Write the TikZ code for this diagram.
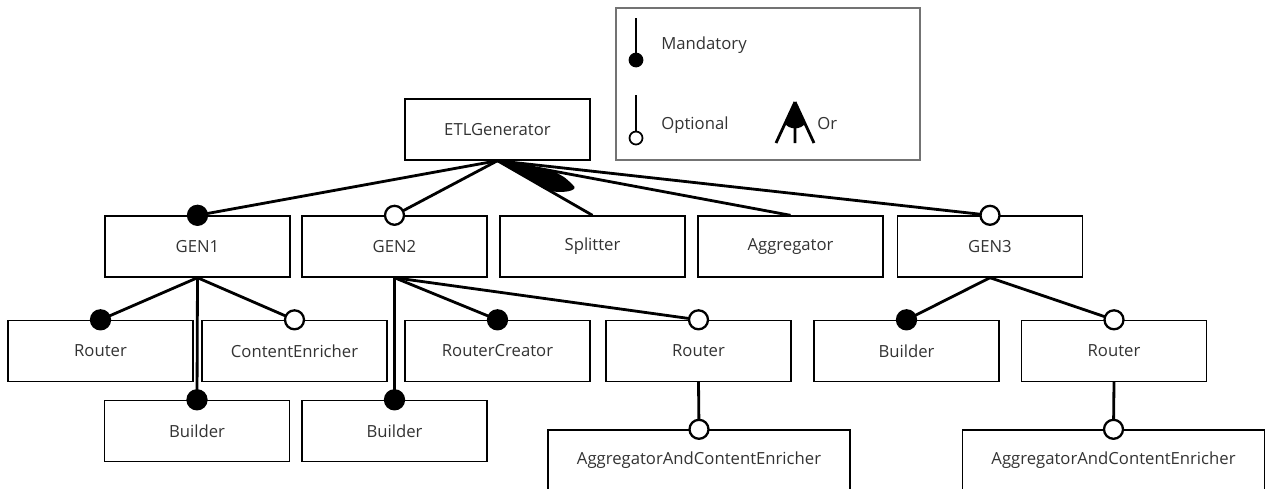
\documentclass[tikz,border=0pt]{standalone}
\usepackage{fontspec}
\setmainfont{Open Sans}
\usetikzlibrary{calc}
\begin{document}
\begin{tikzpicture}[x=0.02cm,y=-0.02cm,
    feat/.style={draw,line width=0.8pt,minimum width=3.7cm,minimum height=1.22cm,
      inner sep=0pt,font=\fontsize{9.5}{11}\selectfont,text=black!80},
    mand/.style={circle,draw,fill=black,line width=1.3pt,minimum size=0.38cm,inner sep=0pt},
    opt/.style={mand,fill=white},
    lmand/.style={mand,line width=1pt,minimum size=0.26cm},
    lopt/.style={lmand,fill=white},
    ltext/.style={anchor=west,inner sep=0pt,font=\fontsize{9.5}{11}\selectfont,text=black!80},
    edge/.style={line width=1.6pt}]
  \useasboundingbox (0,0) rectangle (1265,488);
  \clip (0,0) rectangle (1265,488);
  % legend
  \draw[line width=1.2pt,black!55] (616,8) rectangle (920,160);
  \draw
    (661,45) node[ltext] (lmandtxt){Mandatory}
    (661,125) node[ltext] (lopttxt){Optional}
    (817,124) node[ltext] (lortxt){Or};
  \coordinate (lmtop) at (636,18);
  \coordinate (lotop) at (636,95);
  \coordinate (lor) at (795,102);
  \draw[line width=1.4pt] (lmtop) -- ++(0,42) node[lmand]{};
  \draw[line width=1.4pt] (lotop) -- ++(0,43) node[lopt]{};
  \fill (lor) -- ($(lor)+(-10,21.5)$) .. controls ($(lor)+(-6,28)$) and ($(lor)+(6,28)$)
    .. ($(lor)+(10,21.5)$) -- cycle;
  \draw[line width=1.6pt] (lor) -- ++(-19,41) (lor) -- ++(0,41) (lor) -- ++(19,41);
  % features
  \draw
    (497.5,129.5) node[feat] (etl){ETLGenerator}
    (197.5,246.5) node[feat] (gen1){GEN1}
    (394.5,246.5) node[feat] (gen2){GEN2}
    (592.5,246.5) node[feat] (splitter){Splitter}
    (790.5,246.5) node[feat] (aggregator){Aggregator}
    (990,246.5) node[feat] (gen3){GEN3}
    (100.5,351) node[feat] (router1){Router}
    (294.5,351) node[feat] (enricher1){ContentEnricher}
    (497.5,351) node[feat] (creator2){RouterCreator}
    (698.5,351) node[feat] (router2){Router}
    (906.5,351) node[feat] (builder3){Builder}
    (1114,351) node[feat] (router3){Router}
    (197,431) node[feat] (builder1){Builder}
    (394.5,431) node[feat] (builder2){Builder}
    (699,460.5) node[feat,minimum width=6.04cm] (aace2){AggregatorAndContentEnricher}
    (1113.5,460.5) node[feat,minimum width=6.04cm] (aace3){AggregatorAndContentEnricher};
  \begin{scope}[edge]
    \draw (etl.south) to (gen1.north) node[mand]{};
    \draw (etl.south) to (gen2.north) node[opt]{};
    \draw (etl.south) to (splitter.north);
    \draw (etl.south) to (aggregator.north);
    \draw (etl.south) to (gen3.north) node[opt]{};
    \draw (gen1.south) to (router1.north) node[mand]{};
    \draw (gen1.south) to (enricher1.north) node[opt]{};
    \draw (gen1.south) to (builder1.north) node[mand]{};
    \draw (gen2.south) to (builder2.north) node[mand]{};
    \draw (gen2.south) to (creator2.north) node[mand]{};
    \draw (gen2.south) to (router2.north) node[opt]{};
    \draw (router2.south) to (aace2.north) node[opt]{};
    \draw (gen3.south) to (builder3.north) node[mand]{};
    \draw (gen3.south) to (router3.north) node[opt]{};
    \draw (router3.south) to (aace3.north) node[opt]{};
  \end{scope}
  % or group
  \fill (etl.south) -- ($(etl.south)+(48,29)$) .. controls ($(etl.south)+(63,34)$) and ($(etl.south)+(84,30)$)
    .. ($(etl.south)+(75,24)$) .. controls ($(etl.south)+(68,17)$) .. ($(etl.south)+(57,11)$) -- cycle;
\end{tikzpicture}
\end{document}
